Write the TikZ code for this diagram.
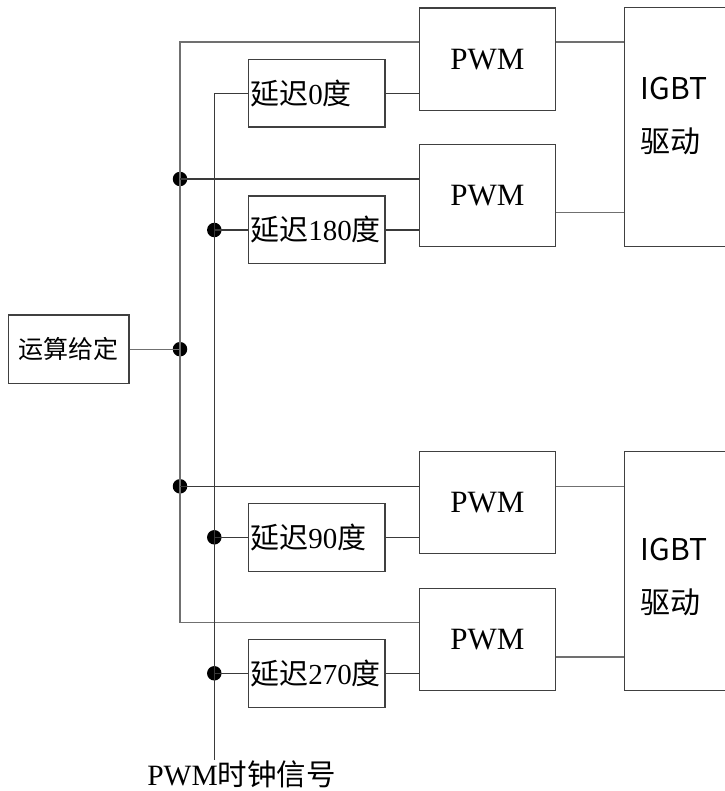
\documentclass[tikz,border=0pt]{standalone}
\usepackage{fontspec}
\setmainfont{Liberation Serif}
\newfontfamily\cjk{Noto Sans CJK SC}
\definecolor{boxc}{HTML}{404040}
\definecolor{wirec}{HTML}{3A3A3A}
\definecolor{busc}{HTML}{707070}
\begin{document}
\begin{tikzpicture}[x=1pt,y=-1pt,
  box/.style={draw=boxc, line width=1.2pt, inner sep=0pt, rectangle},
  pwmbox/.style={box, minimum width=136.4pt, minimum height=102.3pt, font=\fontsize{31}{36}\selectfont},
  dlybox/.style={box, minimum width=136.7pt, minimum height=67.8pt, inner xsep=2pt, text width=132.7pt, align=left, font=\fontsize{29}{34}\selectfont},
  igbox/.style={box, minimum width=101.7pt, minimum height=239pt},
  igtext/.style={inner sep=0pt, anchor=base west, font=\cjk\fontsize{30}{36}\selectfont},
  wire/.style={draw=wirec, line width=1.2pt},
  bus/.style={draw=busc, line width=1.4pt},
  dotc/.style={circle, fill=black, inner sep=0pt, minimum size=14.5pt}]
\useasboundingbox (0,0) rectangle (724,791);

% left input box
\node[box, minimum width=120.7pt, minimum height=68.3pt, font=\cjk\fontsize{25}{30}\selectfont] (gd) at (68.7,349.2) {运算给定};

% PWM boxes
\node[pwmbox] (p1) at (487.5,59.2) {PWM};
\node[pwmbox] (p2) at (487.5,195.5) {PWM};
\node[pwmbox] (p3) at (487.5,502.5) {PWM};
\node[pwmbox] (p4) at (487.5,639.7) {PWM};

% delay boxes
\node[dlybox] (d0) at (316.7,93.2) {{\cjk 延迟}0{\cjk 度}};
\node[dlybox] (d180) at (316.7,229.9) {{\cjk 延迟}180{\cjk 度}};
\node[dlybox] (d90) at (316.7,537.2) {{\cjk 延迟}90{\cjk 度}};
\node[dlybox] (d270) at (316.7,673.3) {{\cjk 延迟}270{\cjk 度}};

% IGBT boxes
\node[igbox] (ig1) at (675.2,127.4) {};
\node[igbox] (ig2) at (675.2,571.0) {};
\node[igtext] (ig1a) at (640.5,100) {IGBT};
\node[igtext] (ig1b) at (640.5,152.5) {驱动};
\node[igtext] (ig2a) at (640.5,560) {IGBT};
\node[igtext] (ig2b) at (640.5,613) {驱动};

% clock label
\node[inner sep=0pt, anchor=base, font=\fontsize{29.5}{34}\selectfont] (clk) at (241.5,785) {PWM{\cjk 时钟信号}};

% junction dots
\node[dotc] (j1) at (180,179) {};
\node[dotc] (jg) at (180,349.2) {};
\node[dotc] (j3) at (180,486.3) {};
\node[dotc] (c180) at (214.3,230) {};
\node[dotc] (c90) at (214.3,537.3) {};
\node[dotc] (c270) at (214.3,673.3) {};

% helper coordinates
\coordinate (btop) at (180,42);
\coordinate (bbot) at (180,622.3);
\coordinate (ctop) at (214.3,93.3);
\coordinate (cbot) at (214.3,760);
\coordinate (o2) at (600,212.7);
\coordinate (o4) at (600,657);

% main bus
\draw[bus] (p1.west |- btop) -- (btop) -- (bbot) -- (p4.west |- bbot);
\draw[bus] (gd.east) -- (jg.center);
\draw[wire] (j1.center) -- (p2.west |- j1.center);
\draw[wire] (j3.center) -- (p3.west |- j3.center);

% clock bus
\draw[wire] (d0.west |- ctop) -- (ctop) -- (cbot);
\draw[wire] (c180.center) -- (d180.west |- c180.center);
\draw[wire] (c90.center) -- (d90.west |- c90.center);
\draw[wire] (c270.center) -- (d270.west |- c270.center);

% delay -> PWM
\draw[wire] (d0.east |- ctop) -- (p1.west |- ctop);
\draw[wire] (d180.east |- c180.center) -- (p2.west |- c180.center);
\draw[wire] (d90.east |- c90.center) -- (p3.west |- c90.center);
\draw[wire] (d270.east |- c270.center) -- (p4.west |- c270.center);

% PWM -> IGBT
\draw[bus] (p1.east |- btop) -- (ig1.west |- btop);
\draw[bus] (p2.east |- o2) -- (ig1.west |- o2);
\draw[bus] (p3.east |- j3.center) -- (ig2.west |- j3.center);
\draw[bus] (p4.east |- o4) -- (ig2.west |- o4);
\end{tikzpicture}
\end{document}
